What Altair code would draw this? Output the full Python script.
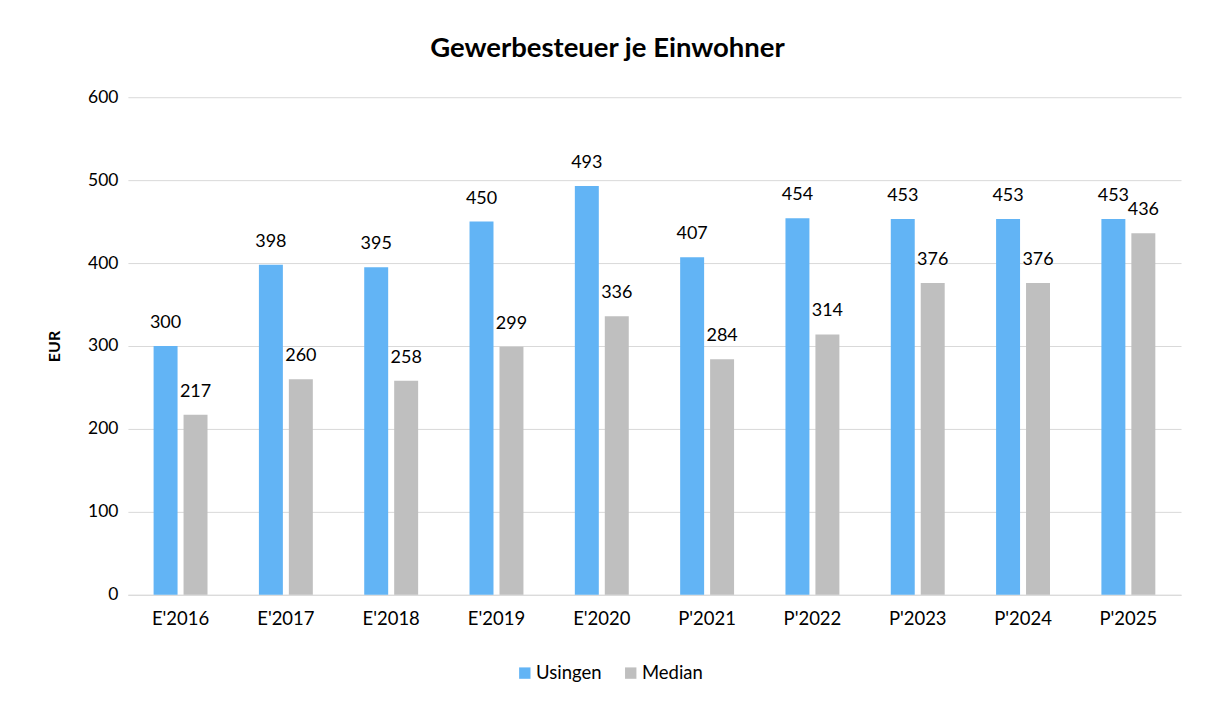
import altair as alt
import pandas as pd

years = ["E'2016", "E'2017", "E'2018", "E'2019", "E'2020",
         "P'2021", "P'2022", "P'2023", "P'2024", "P'2025"]
usingen = [300, 398, 395, 450, 493, 407, 454, 453, 453, 453]
median = [217, 260, 258, 299, 336, 284, 314, 376, 376, 436]
series = ["Usingen", "Median"]
colors = ["#62B4F5", "#BFBFBF"]

rows = []
for i, y in enumerate(years):
    rows.append({"Jahr": y, "Serie": "Usingen", "Wert": usingen[i]})
    rows.append({"Jahr": y, "Serie": "Median", "Wert": median[i]})
df = pd.DataFrame(rows)

FONT = "Lato"

x = alt.X("Jahr:N", sort=years, title=None,
          scale=alt.Scale(paddingInner=0.488, paddingOuter=0.244),
          axis=alt.Axis(labelAngle=0, labelFontSize=18.5, labelColor="#000000",
                        labelPadding=15, ticks=False, domainColor="#D9D9D9",
                        labelFont=FONT, grid=False))
xo = alt.XOffset("Serie:N", sort=series,
                 scale=alt.Scale(paddingInner=0.2, paddingOuter=0))
yenc = alt.Y("Wert:Q", title="EUR",
             scale=alt.Scale(domain=[0, 600]),
             axis=alt.Axis(values=[0, 100, 200, 300, 400, 500, 600],
                           labelFontSize=17.5, labelColor="#000000", labelFont=FONT,
                           ticks=False, domain=False, gridColor="#D9D9D9",
                           labelPadding=10, titleFontSize=16, titleFont=FONT,
                           titleFontWeight="bold", titleColor="#000000",
                           titlePadding=25))

base = alt.Chart(df).encode(x=x, xOffset=xo, y=yenc)

bars = base.mark_bar().encode(
    color=alt.Color("Serie:N", sort=series,
                    scale=alt.Scale(domain=series, range=colors),
                    legend=alt.Legend(title=None, orient="none", direction="horizontal",
                                      legendX=388, legendY=567, labelFontSize=18.5,
                                      labelFont=FONT, labelColor="#000000",
                                      symbolType="square", symbolSize=130,
                                      symbolStrokeWidth=0, columnPadding=20,
                                      labelOffset=2))
)

labels = base.mark_text(baseline="bottom", dy=-14, fontSize=18, font=FONT,
                        color="#000000").encode(text=alt.Text("Wert:Q"))

chart = (bars + labels).properties(
    width=1054, height=498,
    background="#FFFFFF",
    padding={"left": 120, "top": 89, "right": 20, "bottom": 90},
    autosize=alt.AutoSizeParams(type="none"),
    title=alt.Title("Gewerbesteuer je Einwohner", fontSize=27.5, font=FONT,
                    fontWeight="bold", color="#000000", offset=26,
                    anchor="middle", dx=-47),
).configure_view(strokeWidth=0, stroke="transparent")

chart.save("out.html", embed_options={"renderer": "svg", "actions": False})
